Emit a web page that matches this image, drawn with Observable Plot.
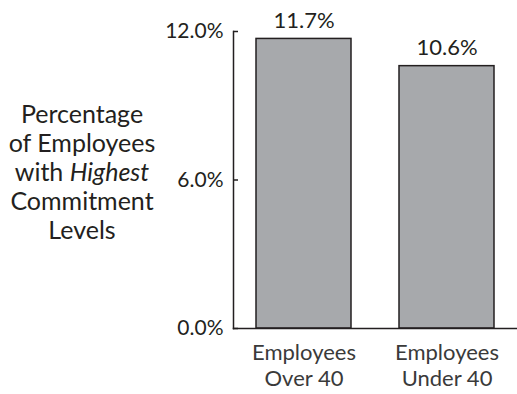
<!DOCTYPE html>
<html>
<head>
<meta charset="utf-8">
<script src="https://cdn.jsdelivr.net/npm/d3@7"></script>
<script src="https://cdn.jsdelivr.net/npm/@observablehq/plot@0.6"></script>
<style>
  html, body { margin: 0; padding: 0; background: #fff; }
  #wrap { position: relative; width: 517px; height: 394px; font-family: Lato, "Open Sans", sans-serif; color: #231f20; }
  #ylabel { position: absolute; left: 0; width: 164px; top: 99px; text-align: center; font-size: 25px; line-height: 29px; }
</style>
</head>
<body>
<div id="wrap">
  <div id="ylabel">Percentage<br>of Employees<br>with <i>Highest</i><br>Commitment<br>Levels</div>
</div>
<script>
const categories = ["Employees Over 40", "Employees Under 40"];
const values = [11.7, 10.6];
const yTicks = [0, 6, 12];
const tickLabels = {"Employees Over 40": "Employees\nOver 40", "Employees Under 40": "Employees\nUnder 40"};

const data = categories.map((c, i) => ({category: c, value: values[i]}));
const ink = "#231f20";

const chart = Plot.plot({
  width: 517,
  height: 394,
  marginLeft: 233,
  marginRight: 0,
  marginTop: 31,
  marginBottom: 66,
  style: {fontFamily: "Lato, 'Open Sans', sans-serif", color: ink, background: "transparent"},
  x: {domain: categories, paddingInner: 0.333, paddingOuter: 0.153, label: null},
  y: {domain: [0, 12], label: null},
  marks: [
    Plot.barY(data, {x: "category", y: "value", fill: "#a7a9ac", stroke: ink, strokeWidth: 1.5}),
    Plot.text(data, {x: "category", y: "value", text: d => d.value.toFixed(1) + "%", dy: -18, fontSize: 22, fill: ink}),
    Plot.axisY({ticks: yTicks, tickFormat: d => d.toFixed(1) + "%", tickSize: -5, tickPadding: 15, fontSize: 21, stroke: ink, fill: ink, strokeWidth: 1.5, label: null}),
    Plot.axisX({tickSize: 0, tickPadding: 13, tickFormat: d => tickLabels[d], fontSize: 22, lineHeight: 1.18, fill: "#3a3a3a", label: null}),
    Plot.frame({anchor: "left", stroke: ink, strokeWidth: 1.5}),
    Plot.frame({anchor: "bottom", stroke: ink, strokeWidth: 1.5})
  ]
});
document.getElementById("wrap").prepend(chart);
chart.style.position = "absolute";
chart.style.left = "0";
chart.style.top = "0";
</script>
</body>
</html>
